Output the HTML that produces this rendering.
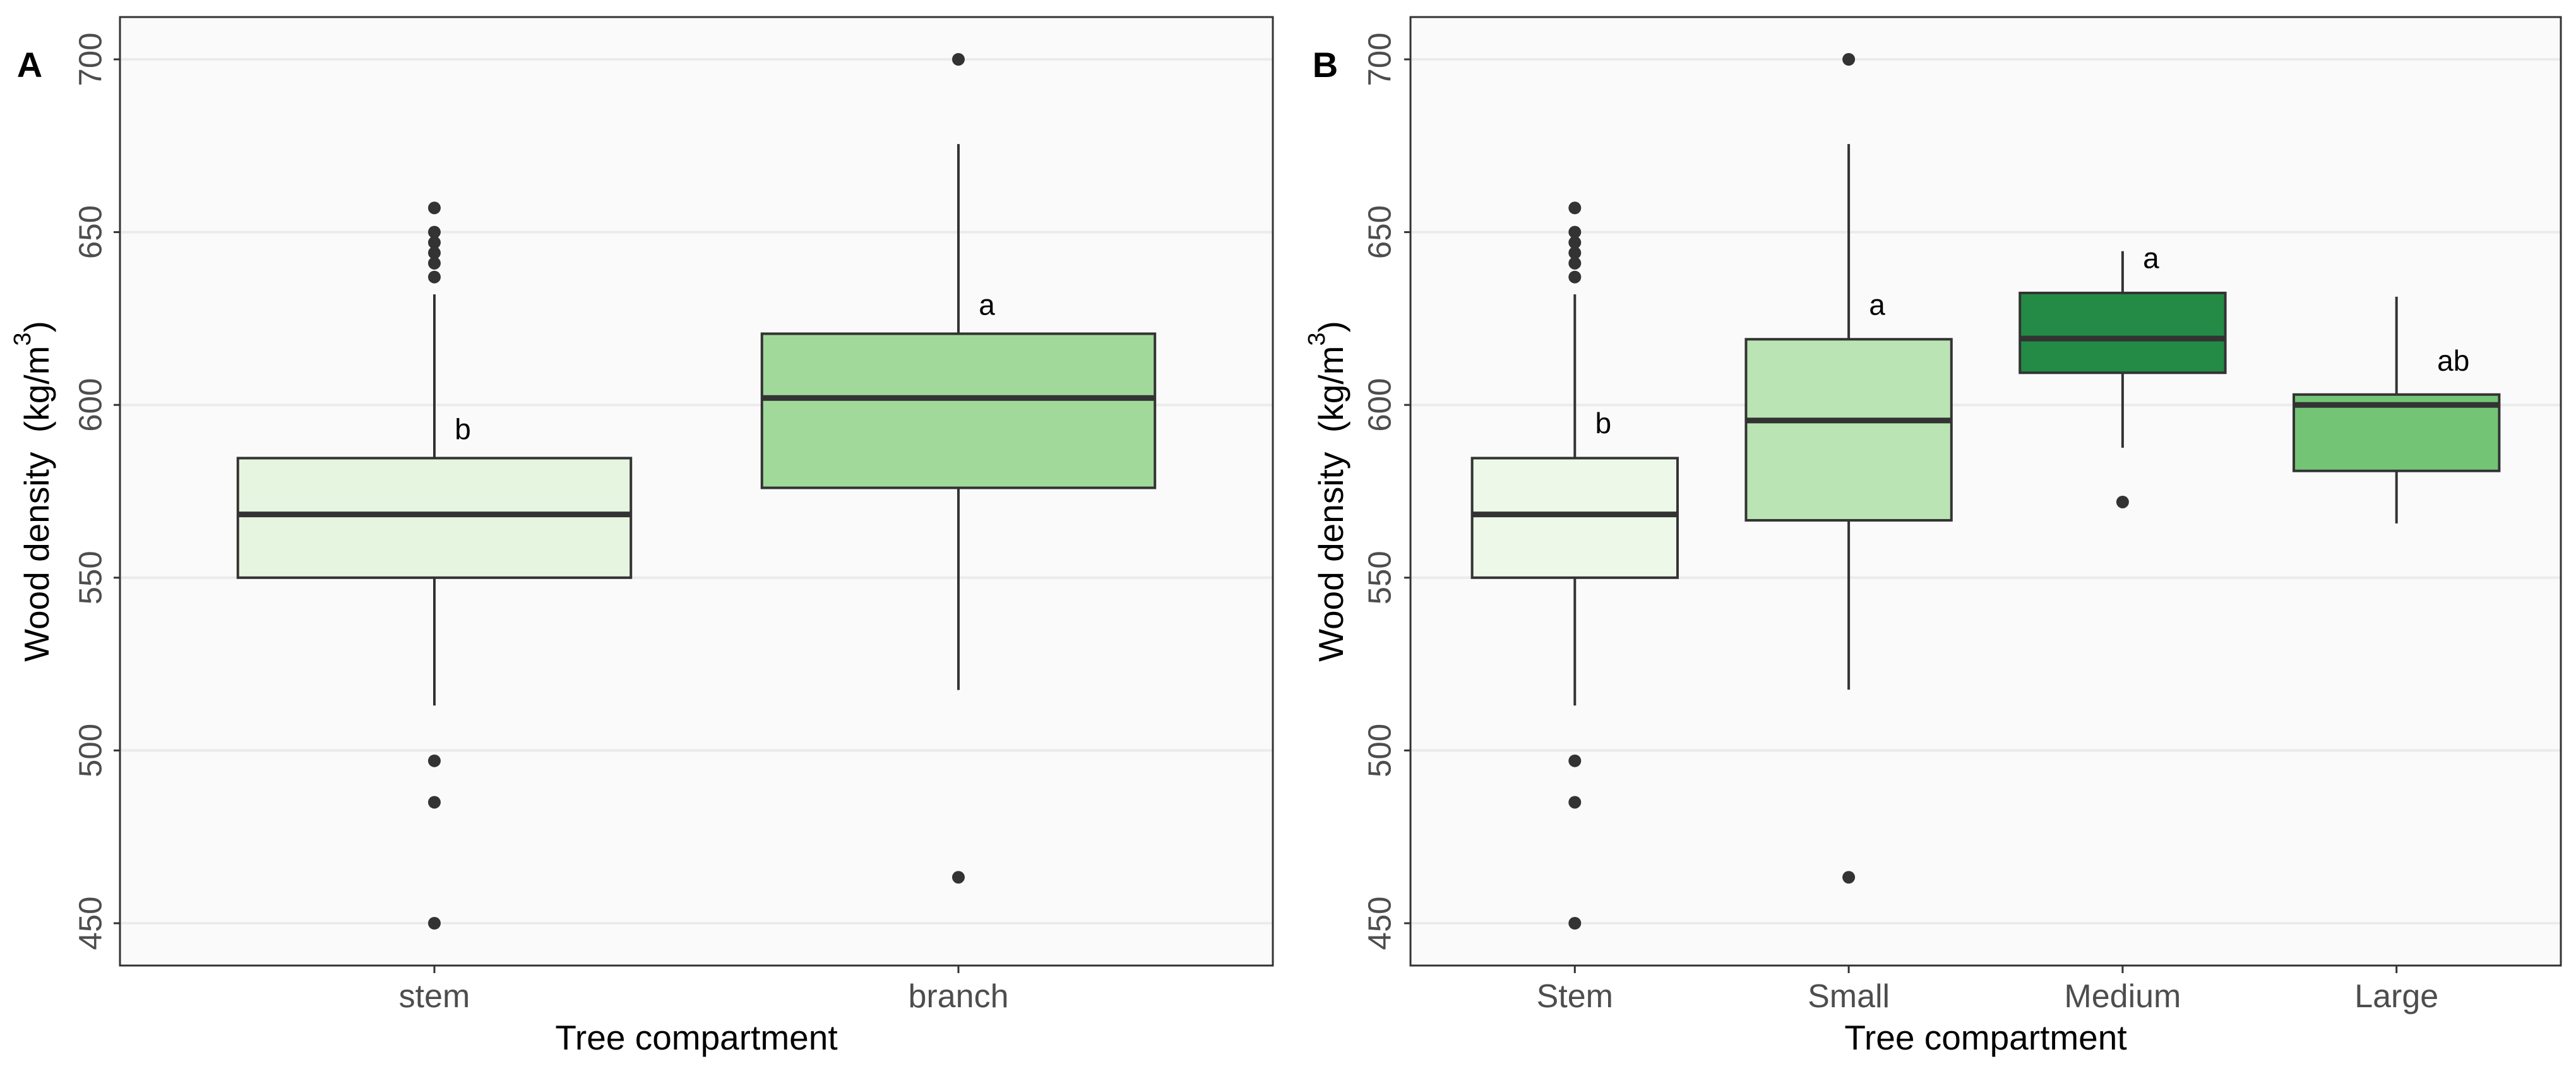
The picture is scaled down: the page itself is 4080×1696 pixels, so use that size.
<!DOCTYPE html>
<html><head><meta charset="utf-8"><style>
html,body{margin:0;padding:0;background:#fff;}
svg{display:block;font-family:"Liberation Sans",Arial,sans-serif;}
</style></head><body>
<svg id="chart" width="4080" height="1696" viewBox="0 0 4080 1696" xmlns="http://www.w3.org/2000/svg">
<rect width="4080" height="1696" fill="#ffffff"/>
</svg>
<script>
const yTicks = [450, 500, 550, 600, 650, 700];
// Panel A
const catsA = ["stem", "branch"];
const fillsA = ["#e5f5e0", "#a1d99b"];
const lowA = [513, 517.5];
const q1A = [550, 576];
const medA = [568.3, 602];
const q3A = [584.6, 620.6];
const highA = [632, 675.5];
const outA = [[657, 650, 647, 644, 641, 637, 497, 485, 450], [700, 463.3]];
const lettersA = ["b", "a"];
const letterYA = [593, 629];
const letterDxA = [45, 45];
// Panel B
const catsB = ["Stem", "Small", "Medium", "Large"];
const fillsB = ["#edf8e9", "#bae4b3", "#238b45", "#74c476"];
const lowB = [513, 517.6, 587.6, 565.7];
const q1B = [550, 566.6, 609.3, 580.9];
const medB = [568.3, 595.5, 619.2, 600];
const q3B = [584.6, 619, 632.4, 603];
const highB = [632, 675.5, 644.5, 631.3];
const outB = [[657, 650, 647, 644, 641, 637, 497, 485, 450], [700, 463.3], [571.9], []];
const lettersB = ["b", "a", "a", "ab"];
const letterYB = [594.7, 629, 642.5, 612.8];
const letterDxB = [45, 45, 45, 90];

const NS = "http://www.w3.org/2000/svg";
const svg = document.getElementById("chart");
function mk(tag, attrs, parent) {
  const e = document.createElementNS(NS, tag);
  for (const k in attrs) e.setAttribute(k, attrs[k]);
  (parent || svg).appendChild(e);
  return e;
}
const TOP = 27, BOT = 1529;
function yScale(v) { return 94 + (700 - v) * (1462 - 94) / 250; }

function panel(key, left, right, cats, fills, low, q1, med, q3, high, outs, letters, letterY, letterDx, tickX, titleX, letterPos) {
  const g = mk("g", {});
  
  
  const bg = mk("rect", {x: left, y: TOP, width: right - left, height: BOT - TOP, fill: "#fafafa"}, g);
  
  
  const n = cats.length;
  const unit = (right - left) / (n + 0.2);
  const xScale = i => left + (0.6 + i) * unit;
  yTicks.forEach(t => {
    const y = yScale(t);
    const gl = mk("line", {x1: left, x2: right, y1: y, y2: y, stroke: "#ebebeb", "stroke-width": 4}, g);
    
    
    const tk = mk("line", {x1: left - 10, x2: left, y1: y, y2: y, stroke: "#333", "stroke-width": 3}, g);
    
    
    const lb = mk("text", {x: tickX, y: y, "font-size": 51, fill: "#4d4d4d", "text-anchor": "middle", "dominant-baseline": "central", transform: `rotate(-90 ${tickX} ${y})`}, g);
    lb.textContent = t;
    
    
  });
  const hw = 0.375 * unit;
  cats.forEach((c, i) => {
    const cx = xScale(i);
    const bx = mk("g", {}, g);
    
    
    mk("line", {x1: cx, x2: cx, y1: yScale(high[i]), y2: yScale(q3[i]), stroke: "#333", "stroke-width": 4}, bx);
    mk("line", {x1: cx, x2: cx, y1: yScale(q1[i]), y2: yScale(low[i]), stroke: "#333", "stroke-width": 4}, bx);
    mk("rect", {x: cx - hw, y: yScale(q3[i]), width: 2 * hw, height: yScale(q1[i]) - yScale(q3[i]), fill: fills[i], stroke: "#333", "stroke-width": 4}, bx);
    mk("line", {x1: cx - hw, x2: cx + hw, y1: yScale(med[i]), y2: yScale(med[i]), stroke: "#333", "stroke-width": 9}, bx);
    outs[i].forEach(v => {
      const p = mk("circle", {cx: cx, cy: yScale(v), r: 10, fill: "#333"}, bx);
      
      
    });
    const lt = mk("text", {x: cx + letterDx[i], y: yScale(letterY[i]), "font-size": 46, fill: "#000", "text-anchor": "middle", "dominant-baseline": "central"}, g);
    lt.textContent = letters[i];
    
    
    const tk = mk("line", {x1: cx, x2: cx, y1: BOT, y2: BOT + 12, stroke: "#333", "stroke-width": 3}, g);
    
    
    const xl = mk("text", {x: cx, y: 1595, "font-size": 52, fill: "#4d4d4d", "text-anchor": "middle"}, g);
    xl.textContent = c;
    
    
  });
  const br = mk("rect", {x: left, y: TOP, width: right - left, height: BOT - TOP, fill: "none", stroke: "#333", "stroke-width": 3}, g);
  
  
  const xt = mk("text", {x: (left + right) / 2, y: 1662, "font-size": 55, fill: "#000", "text-anchor": "middle"}, g);
  xt.textContent = "Tree compartment";
  
  
  const ymid = (TOP + BOT) / 2;
  const yt = mk("text", {x: titleX, y: ymid, "font-size": 55, fill: "#000", "text-anchor": "middle", "dominant-baseline": "central", transform: `rotate(-90 ${titleX} ${ymid})`}, g);
  yt.innerHTML = 'Wood density&#160;&#160;(kg/m<tspan dy="-22" font-size="38">3</tspan><tspan dy="22">)</tspan>';
  
  
  const pl = mk("text", {x: letterPos, y: 122, "font-size": 56, "font-weight": "bold", fill: "#000", "text-anchor": "middle"}, g);
  pl.textContent = key.toUpperCase();
  
  
}
panel("a", 190, 2016, catsA, fillsA, lowA, q1A, medA, q3A, highA, outA, lettersA, letterYA, letterDxA, 143, 58, 47);
panel("b", 2234, 4056, catsB, fillsB, lowB, q1B, medB, q3B, highB, outB, lettersB, letterYB, letterDxB, 2185, 2108, 2099);
</script>
</body></html>
